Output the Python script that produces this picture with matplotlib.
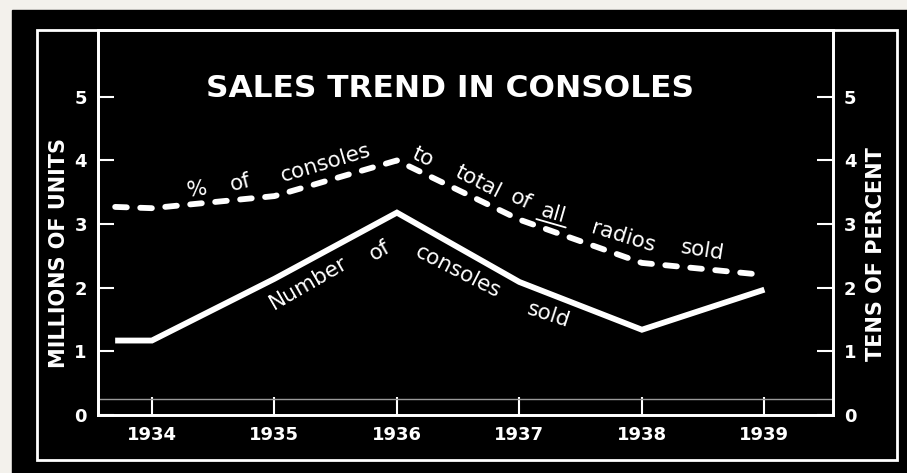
import math
import matplotlib
matplotlib.use("Agg")
import matplotlib.pyplot as plt
import matplotlib.patches as patches
from matplotlib.transforms import offset_copy

# data
years = [1933.7, 1934, 1935, 1936, 1937, 1938, 1939]
units_sold = [1.17, 1.17, 2.14, 3.18, 2.09, 1.34, 1.97]        # millions of units
pct_consoles = [3.27, 3.25, 3.44, 4.0, 3.07, 2.39, 2.2]        # tens of percent
year_ticks = [1934, 1935, 1936, 1937, 1938, 1939]
y_ticks = [0, 1, 2, 3, 4, 5]

W, H = 907, 473
fig = plt.figure(figsize=(W / 100, H / 100), dpi=100, facecolor='#f3f1ec')

# black card with the white frame
fig.patches.append(patches.Rectangle((12 / W, 0), 1, (H - 10) / H,
                                     transform=fig.transFigure, color='black', zorder=-2))
fig.patches.append(patches.Rectangle((37 / W, (H - 460) / H), (897 - 37) / W, (460 - 30) / H,
                                     transform=fig.transFigure, fill=False,
                                     edgecolor='white', lw=2, zorder=-1))

ax = fig.add_axes([98 / W, (H - 415) / H, (833 - 98) / W, (415 - 30) / H])
ax.set_facecolor('black')
ax2 = ax.twinx()

for a in (ax, ax2):
    a.set_xlim(1933.56, 1939.56)
    a.set_ylim(0, 6.05)
    for s in a.spines.values():
        s.set_color('white')
        s.set_linewidth(2)

ax.set_xticks(year_ticks)
ax.set_xticklabels([str(y) for y in year_ticks], fontsize=13, fontweight='bold', color='white')
ax.set_yticks(y_ticks)
ax.set_yticklabels([str(v) for v in y_ticks], fontsize=13, fontweight='bold', color='white')
ax2.set_yticks(y_ticks)
ax2.set_yticklabels([str(v) for v in y_ticks], fontsize=13, fontweight='bold', color='white')
ax.tick_params(axis='x', direction='in', length=13, width=1.5, color='white', pad=8)
ax.tick_params(axis='y', direction='in', length=11.5, width=1.5, color='white', pad=8)
ax2.tick_params(axis='y', direction='in', length=11.5, width=1.5, color='white', pad=8)
ax.axhline(0.25, color='#9a9a9a', lw=1)

ax.set_ylabel('MILLIONS OF UNITS', fontsize=15, fontweight='bold', color='white')
ax.yaxis.set_label_coords(-0.0395, 0.421)
ax2.set_ylabel('TENS OF PERCENT', fontsize=15, fontweight='bold', color='white', rotation=90)
ax2.yaxis.set_label_coords(1.045, 0.418)

ax.plot(years, units_sold, color='white', lw=4.2, solid_joinstyle='miter', solid_capstyle='butt')
ln, = ax2.plot(years, pct_consoles, color='white', lw=4.2, dash_capstyle='round')
ln.set_dashes((2.0, 2.3))

ax.text(0.479, 0.849, 'SALES TREND IN CONSOLES', transform=ax.transAxes, ha='center', va='center',
        fontsize=22.5, fontweight='bold', color='white')

# labels following the lines
lbl = dict(color='white', fontsize=15.5, ha='center', va='center', rotation_mode='anchor')
upper = [('%', 1934.37, 3.54, 8), ('of', 1934.72, 3.65, 14), ('consoles', 1935.42, 3.96, 16.5),
         ('to', 1936.21, 4.06, -25), ('total', 1936.66, 3.66, -27), ('of', 1937.01, 3.38, -25),
         ('all', 1937.28, 3.16, -16), ('radios', 1937.85, 2.80, -17), ('sold', 1938.49, 2.59, -9)]
lower = [('Number', 1935.28, 2.08, 30), ('of', 1935.86, 2.59, 30),
         ('consoles', 1936.50, 2.25, -27), ('sold', 1937.24, 1.57, -18)]
for t, x, y, r in upper + lower:
    ax.text(x, y, t, rotation=r, **lbl)

# underline under "all"
r = math.radians(-16)
def off(dx, dy):
    return offset_copy(ax.transData, fig=fig, units='points',
                       x=dx * math.cos(r) - dy * math.sin(r), y=dx * math.sin(r) + dy * math.cos(r))
ax.annotate('', xy=(1937.28, 3.16), xycoords=off(11, -7), xytext=(1937.28, 3.16), textcoords=off(-11, -7),
            arrowprops=dict(arrowstyle='-', color='white', lw=1.3, shrinkA=0, shrinkB=0))

fig.savefig('out.png', dpi=100, facecolor=fig.get_facecolor())
